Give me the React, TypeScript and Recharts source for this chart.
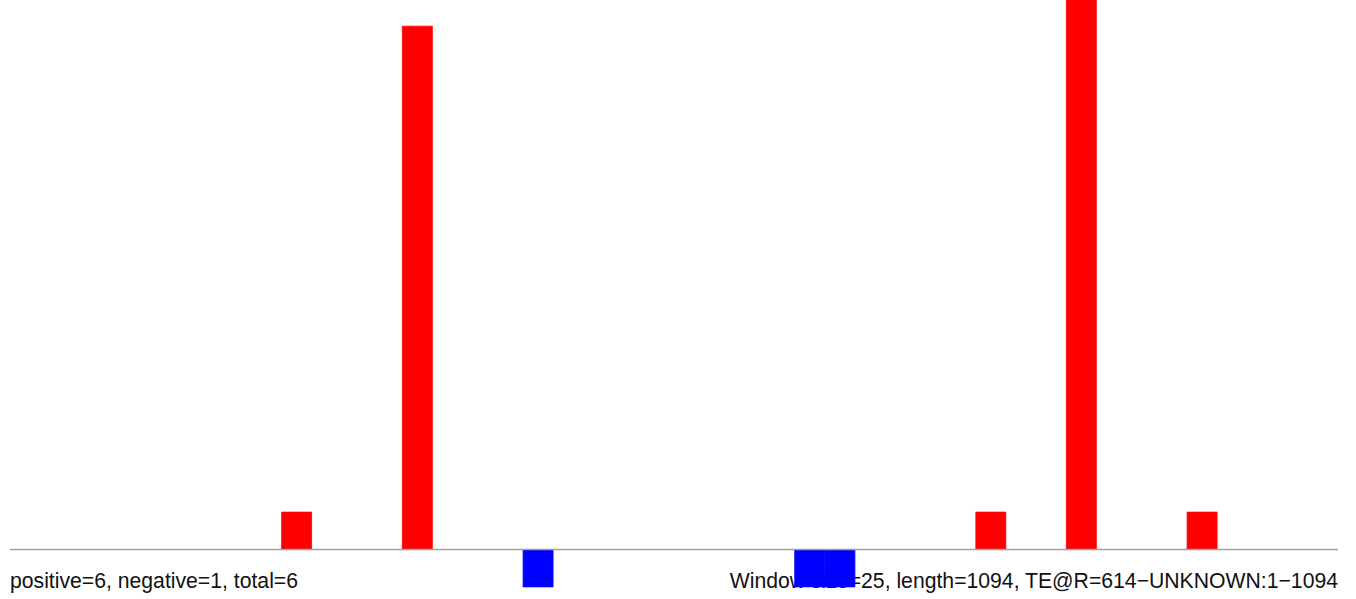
import { BarChart, Bar, XAxis, YAxis, Cell, ReferenceLine } from 'recharts';

// window index (25bp windows over length 1094 -> 44 windows) and score
const windowIdx = Array.from({ length: 44 }, (_, i) => i);
const hitWindows = [9, 13, 17, 26, 27, 32, 35, 39];
const hitScores = [1, 14, -1, -1, -1, 1, 16, 1];

const leftLabel = 'positive=6, negative=1, total=6';
const rightLabel = 'Window size=25, length=1094, TE@R=614\u2212UNKNOWN:1\u22121094';

const data = windowIdx.map((w) => {
  const k = hitWindows.indexOf(w);
  return { win: w, score: k >= 0 ? hitScores[k] : 0 };
});

const font = '"Liberation Sans", Arial, sans-serif';

const labelStyle = {
  position: 'absolute' as const,
  top: 569,
  fontFamily: font,
  fontSize: 21.2,
  color: '#111',
  whiteSpace: 'nowrap' as const,
  transform: 'scaleY(1.06)',
};

export default function App() {
  return (
    <div style={{ position: 'absolute', left: 0, top: 0, width: 1356, height: 599 }}>
      <div style={{ ...labelStyle, left: 10 }}>{leftLabel}</div>
      <div style={{ ...labelStyle, right: 18 }}>{rightLabel}</div>
      <BarChart
        width={1356}
        height={599}
        data={data}
        margin={{ top: 0, right: 18, bottom: 11, left: 10 }}
        barCategoryGap={0}
        barGap={0}
      >
        <XAxis dataKey='win' hide />
        <YAxis hide domain={[-1.03, 14.7]} allowDataOverflow />
        <Bar dataKey='score' isAnimationActive={false}>
          {data.map((d) => {
            const c = d.score < 0 ? '#0000ff' : '#ff0000';
            return <Cell key={d.win} fill={c} stroke={c} strokeWidth={0.8} />;
          })}
        </Bar>
        <ReferenceLine y={0} stroke='#a0a0a0' strokeWidth={1.5} />
      </BarChart>
    </div>
  );
}
